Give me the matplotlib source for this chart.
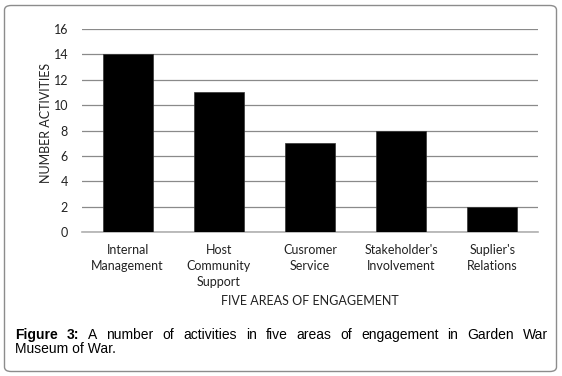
import matplotlib
matplotlib.use("Agg")
import matplotlib.pyplot as plt
from matplotlib.patches import FancyBboxPatch
import numpy as np

areas = ["Internal\nManagement", "Host\nCommunity\nSupport", "Cusromer\nService",
         "Stakeholder's\nInvolvement", "Suplier's\nRelations"]
activities = [14, 11, 7, 8, 2]
yticks = [0, 2, 4, 6, 8, 10, 12, 14, 16]

caption_bold = ["Figure", "3:"]
caption_line1 = ["A", "number", "of", "activities", "in", "five", "areas", "of",
                 "engagement", "in", "Garden", "War"]
caption_line2 = "Museum of War."

W, H = 562, 376
fig = plt.figure(figsize=(W / 100, H / 100), dpi=100)

# rounded frame around the whole figure
frame = FancyBboxPatch((4.5 / W, 4.5 / H), (W - 10) / W, (H - 10) / H,
                       boxstyle="round,pad=0,rounding_size=0.012",
                       transform=fig.transFigure, facecolor="white",
                       edgecolor="#8c8c8c", linewidth=1.0, zorder=-5)
fig.patches.append(frame)

ax = fig.add_axes([82 / W, 1 - 232 / H, (538 - 82) / W, (232 - 29) / H])
ax.set_zorder(2)
ax.set_facecolor("none")
x = np.arange(len(areas))
ax.bar(x, activities, width=0.55, color="black", edgecolor="#333333", linewidth=0.5, zorder=3)
ax.set_xlim(-0.5, len(areas) - 0.5)
ax.set_ylim(0, 16)
ax.set_yticks(yticks)
ax.set_xticks(x)

tick_font = "Lato"
fs = 9
ax.set_xticklabels(areas, fontsize=fs, family=tick_font, color="#222222", linespacing=1.35)
ax.set_yticklabels([str(t) for t in yticks], fontsize=fs, family=tick_font, color="#222222")
ax.tick_params(axis="both", length=0)
ax.tick_params(axis="y", pad=10)
ax.tick_params(axis="x", pad=9)

ax.grid(axis="y", color="#8a8a8a", linewidth=0.9, zorder=0)
for s in ["top", "right", "left"]:
    ax.spines[s].set_visible(False)
ax.spines["bottom"].set_color("#b0b0b0")
ax.spines["bottom"].set_linewidth(1.2)

fig.text(46 / W, 1 - 123 / H, "NUMBER ACTIVITIES", rotation=90, ha="center", va="center",
         fontsize=fs, family=tick_font, color="#222222")
fig.text(310 / W, 1 - 301 / H, "FIVE AREAS OF ENGAGEMENT", ha="center", va="center",
         fontsize=fs, family=tick_font, color="#222222")

# justified caption, first line spread from x=15 to x=548
cap_font = "Liberation Sans"
cap_size = 10
y1 = 1 - 335 / H
y2 = 1 - 349 / H
fig.canvas.draw()
r = fig.canvas.get_renderer()
words = [(w, "bold") for w in caption_bold] + [(w, "normal") for w in caption_line1]
texts = []
widths = []
for w, wt in words:
    t = fig.text(0, y1, w, fontsize=cap_size, family=cap_font, weight=wt,
                 ha="left", va="center", color="black")
    bb = t.get_window_extent(renderer=r)
    texts.append(t)
    widths.append(bb.width)
left, right = 15, 548
gap = (right - left - sum(widths)) / (len(words) - 1)
pos = left
for t, wd in zip(texts, widths):
    t.set_x(pos / W)
    pos += wd + gap
fig.text(left / W, y2, caption_line2, fontsize=cap_size, family=cap_font,
         ha="left", va="center", color="black")

fig.savefig("out.png", dpi=100)
